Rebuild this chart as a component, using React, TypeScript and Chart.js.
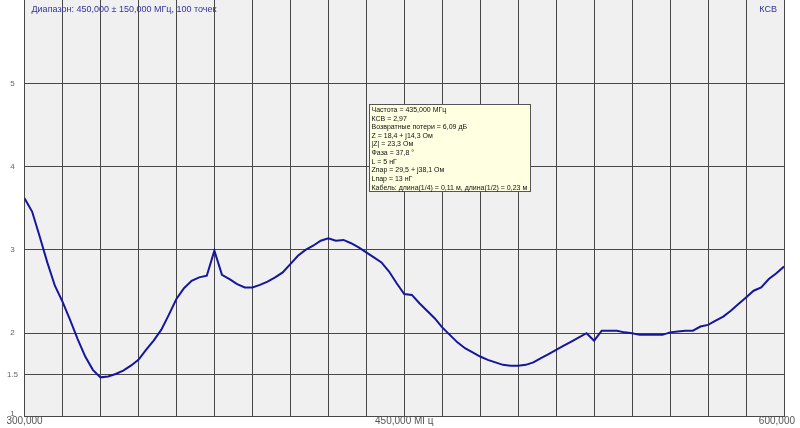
import React, { useEffect, useRef } from 'react';
import { Chart, registerables } from 'chart.js';

Chart.register(...registerables);

// Frequencies (MHz) of the sweep
const freqMHz: number[] = [
  300, 303, 306, 309, 312, 315, 318, 321, 324, 327,
  330, 333, 336, 339, 342, 345, 348, 351, 354, 357,
  360, 363, 366, 369, 372, 375, 378, 381, 384, 387,
  390, 393, 396, 399, 402, 405, 408, 411, 414, 417,
  420, 423, 426, 429, 432, 435, 438, 441, 444, 447,
  450, 453, 456, 459, 462, 465, 468, 471, 474, 477,
  480, 483, 486, 489, 492, 495, 498, 501, 504, 507,
  510, 513, 516, 519, 522, 525, 528, 531, 534, 537,
  540, 543, 546, 549, 552, 555, 558, 561, 564, 567,
  570, 573, 576, 579, 582, 585, 588, 591, 594, 597,
  600,
];

// VSWR (КСВ) values
const vswr: number[] = [
  3.62, 3.46, 3.16, 2.85, 2.57, 2.38, 2.16, 1.93, 1.72, 1.56,
  1.47, 1.48, 1.51, 1.55, 1.61, 1.68, 1.80, 1.91, 2.04, 2.22,
  2.41, 2.54, 2.63, 2.67, 2.69, 2.99, 2.70, 2.65, 2.59, 2.55,
  2.55, 2.58, 2.62, 2.67, 2.73, 2.83, 2.93, 3.00, 3.05, 3.11,
  3.14, 3.11, 3.12, 3.08, 3.03, 2.97, 2.91, 2.85, 2.74, 2.60,
  2.47, 2.46, 2.36, 2.27, 2.18, 2.07, 1.98, 1.89, 1.82, 1.77,
  1.72, 1.68, 1.65, 1.62, 1.61, 1.61, 1.62, 1.65, 1.70, 1.75,
  1.80, 1.85, 1.90, 1.95, 2.00, 1.91, 2.03, 2.03, 2.03, 2.01,
  2.00, 1.98, 1.98, 1.98, 1.98, 2.01, 2.02, 2.03, 2.03, 2.08,
  2.10, 2.15, 2.20, 2.27, 2.35, 2.43, 2.51, 2.55, 2.65, 2.72,
  2.80,
];

const yTickValues: number[] = [1, 1.5, 2, 3, 4, 5];
const yTickLabels: string[] = ['1', '1.5', '2', '3', '4', '5'];
const xLabelValues: number[] = [300, 450, 600];
const xTickLabels: string[] = ['300,000', '450,000 МГц', '600,000'];
const titleText = 'Диапазон: 450,000 ± 150,000 МГц, 100 точек';
const seriesName = 'КСВ';
const markerFreq = 435;
const markerBoxTopValue = 4.75;
const infoLines: string[] = [
  'Частота = 435,000 МГц',
  'КСВ = 2,97',
  'Возвратные потери = 6,09 дБ',
  'Z = 18,4 + j14,3 Ом',
  '|Z| = 23,3 Ом',
  'Фаза = 37,8 °',
  'L = 5 нГ',
  'Zпар = 29,5 + j38,1 Ом',
  'Lпар = 13 нГ',
  'Кабель: длина(1/4) = 0,11 м, длина(1/2) = 0,23 м',
];

const FONT = '"Liberation Sans", Arial, sans-serif';

const decorPlugin = {
  id: 'decor',
  beforeDraw(chart: any) {
    const { ctx, chartArea, width, height } = chart;
    ctx.save();
    ctx.fillStyle = '#ffffff';
    ctx.fillRect(0, 0, width, height);
    ctx.fillStyle = '#f0f0f0';
    ctx.fillRect(chartArea.left, chartArea.top, chartArea.right - chartArea.left, chartArea.bottom - chartArea.top);
    ctx.restore();
  },
  afterDraw(chart: any) {
    const { ctx, chartArea, width } = chart;
    const xs = chart.scales.x;
    const ys = chart.scales.y;
    ctx.save();
    // titles
    ctx.font = `9px ${FONT}`;
    ctx.fillStyle = '#33339a';
    ctx.textBaseline = 'middle';
    ctx.textAlign = 'left';
    ctx.fillText(titleText, chartArea.left + 7, 10);
    ctx.textAlign = 'right';
    ctx.fillText(seriesName, chartArea.right - 7, 10);

    // y labels
    ctx.font = `8px ${FONT}`;
    ctx.fillStyle = '#666666';
    ctx.textAlign = 'center';
    yTickValues.forEach((v, i) => {
      const py = Math.min(ys.getPixelForValue(v), chartArea.bottom - 3);
      ctx.fillText(yTickLabels[i], 12.5, py);
    });

    // x labels
    ctx.font = `10px ${FONT}`;
    ctx.fillStyle = '#555555';
    ctx.textAlign = 'left';
    xLabelValues.forEach((v, i) => {
      const px = xs.getPixelForValue(v);
      const w = ctx.measureText(xTickLabels[i]).width;
      let left = px - w / 2;
      left = Math.max(2, Math.min(left, width - 5 - w));
      ctx.fillText(xTickLabels[i], left, chartArea.bottom + 5);
    });

    // info box
    const bx = Math.round(xs.getPixelForValue(markerFreq)) + 3.5;
    const by = Math.round(ys.getPixelForValue(markerBoxTopValue)) + 0.5;
    const bw = 161;
    const bh = 87;
    ctx.fillStyle = '#ffffe1';
    ctx.fillRect(bx, by, bw, bh);
    ctx.strokeStyle = '#555555';
    ctx.lineWidth = 1;
    ctx.strokeRect(bx, by, bw, bh);
    ctx.font = `7px ${FONT}`;
    ctx.fillStyle = '#111111';
    ctx.textAlign = 'left';
    ctx.textBaseline = 'middle';
    infoLines.forEach((t, i) => {
      ctx.fillText(t, bx + 2, by + 5.5 + i * 8.63);
    });
    ctx.restore();
  },
};

export default function App() {
  const canvasRef = useRef<HTMLCanvasElement | null>(null);

  useEffect(() => {
    if (!canvasRef.current) return;
    const points = freqMHz.map((f, i) => ({ x: f, y: vswr[i] }));
    const chart = new Chart(canvasRef.current, {
      type: 'line',
      data: {
        datasets: [
          {
            label: seriesName,
            data: points,
            borderColor: '#16169c',
            borderWidth: 2,
            pointRadius: 0,
            tension: 0,
            fill: false,
          },
        ],
      },
      plugins: [decorPlugin],
      options: {
        responsive: false,
        animation: false,
        devicePixelRatio: 1,
        layout: { autoPadding: false, padding: { left: 0, right: 16, top: 0, bottom: 0 } },
        plugins: { legend: { display: false }, tooltip: { enabled: false }, title: { display: false } },
        scales: {
          x: {
            type: 'linear',
            min: 300,
            max: 600,
            ticks: { display: false, stepSize: 15 },
            grid: { color: '#474747', lineWidth: 1, drawTicks: false },
            border: { display: true, color: '#474747' },
            afterFit: (scale: any) => {
              scale.height = 11.5;
            },
          },
          y: {
            type: 'linear',
            min: 1,
            max: 6,
            afterBuildTicks: (scale: any) => {
              scale.ticks = [...yTickValues, 6].map((v) => ({ value: v }));
            },
            ticks: { display: false },
            grid: {
              color: (c: any) => (c.tick && c.tick.value === 6 ? 'rgba(0,0,0,0)' : '#474747'),
              lineWidth: 1,
              drawTicks: false,
            },
            border: { display: true, color: '#474747' },
            afterFit: (scale: any) => {
              scale.width = 24.5;
            },
          },
        },
      },
    } as any);
    return () => chart.destroy();
  }, []);

  return (
    <div style={{ position: 'fixed', left: 0, top: 0, width: 800, height: 428 }}>
      <canvas ref={canvasRef} width={800} height={428} style={{ display: 'block', width: 800, height: 428 }} />
    </div>
  );
}
